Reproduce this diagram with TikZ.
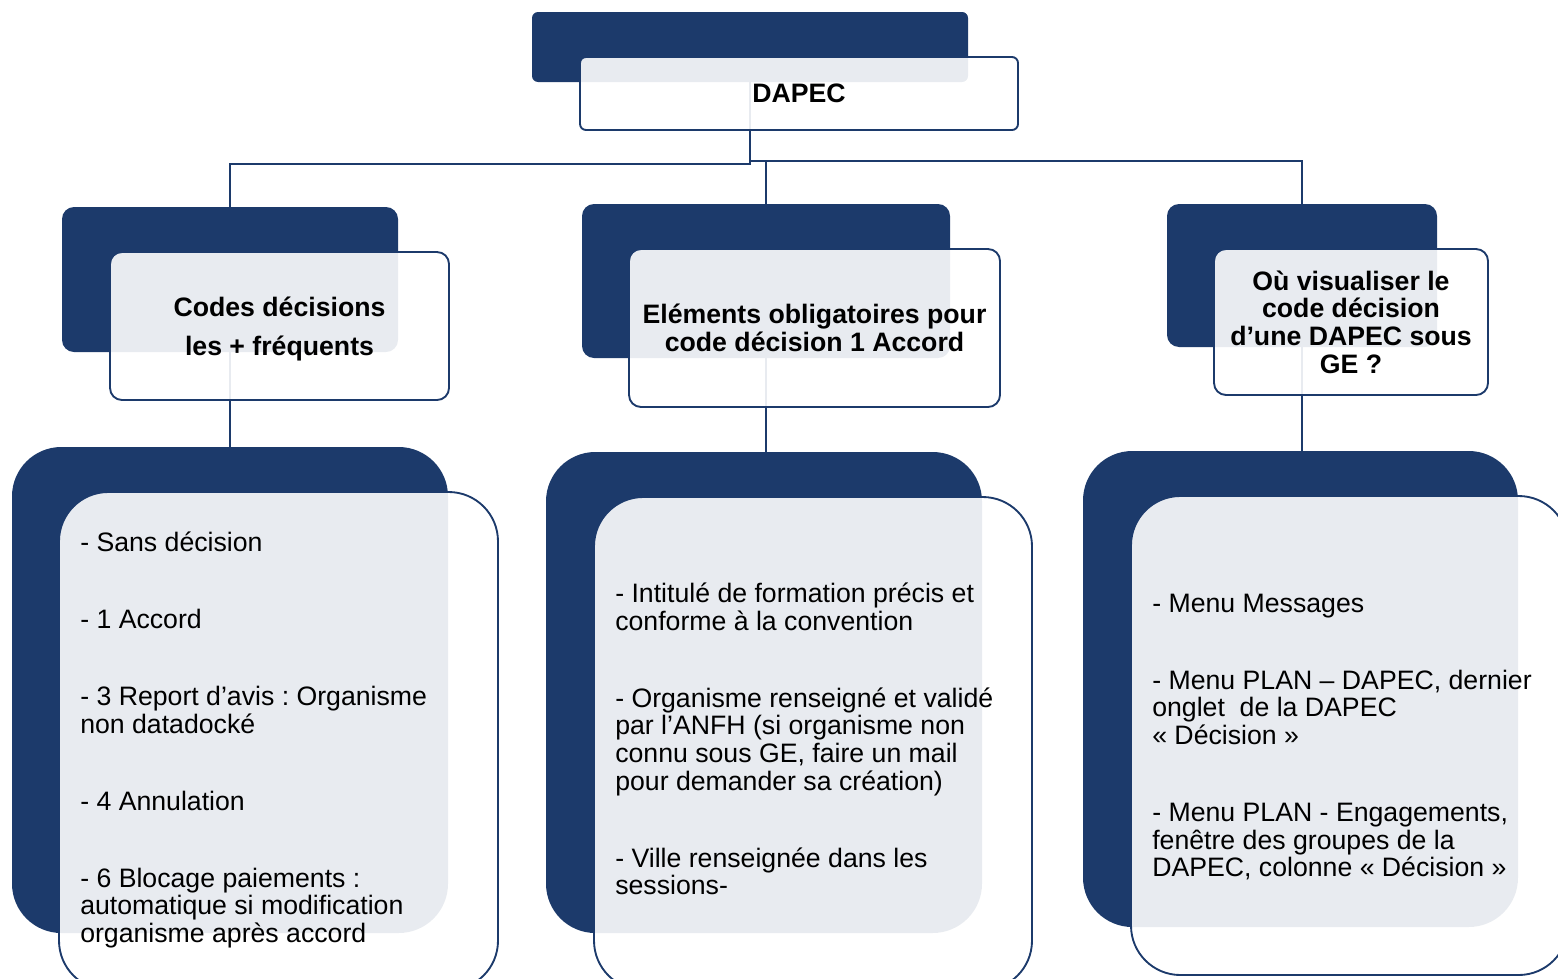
\documentclass[tikz,border=0pt]{standalone}
\usepackage{fontspec}
\setmainfont{Liberation Sans}
\usepackage{xcolor}
\usetikzlibrary{fit,backgrounds}
\definecolor{navy}{RGB}{28,58,107}
\frenchspacing

\tikzset{
  backbox/.style={fill=navy, inner sep=0pt, rounded corners=#1},
  frontbox/.style={draw=navy, line width=1.4pt, fill=white, fill opacity=0.9, inner sep=0pt, rounded corners=#1},
  headtext/.style={font=\bfseries\fontsize{20}{20.7}\selectfont, align=center, inner sep=0pt},
  listtext/.style={font=\fontsize{20}{20.7}\selectfont, align=left, anchor=west, inner sep=0pt},
  link/.style={draw=navy, line width=1.5pt},
}

\begin{document}
\begin{tikzpicture}[x=0.75pt,y=0.75pt,yscale=-1,xscale=1]
\useasboundingbox (0,0) rectangle (1558,978);

%Shape: Rounded Rectangle [top]
\node[backbox=4.5pt, fit={(532,12) (968,82)}] (topback) {};
\node[frontbox=4.5pt, fit={(580,57) (1018,130)}] (topbox) {};

%Shape: Rounded Rectangle [level 2]
\node[backbox=9pt, fit={(62,207) (398,352)}] (codesback) {};
\node[frontbox=9pt, fit={(110,252) (449,400)}] (codesbox) {};
\node[backbox=9pt, fit={(582,204) (950,358)}] (elemback) {};
\node[frontbox=9pt, fit={(629,249) (1000,407)}] (elembox) {};
\node[backbox=9pt, fit={(1167,204) (1437,347)}] (placeback) {};
\node[frontbox=9pt, fit={(1214,249) (1488,395)}] (placebox) {};

%Shape: Rounded Rectangle [level 3]
\node[backbox=37pt, fit={(12,447) (448,933)}] (codeslistback) {};
\node[frontbox=37pt, fit={(59,492) (498,990)}] (codeslistbox) {};
\node[backbox=37pt, fit={(546,452) (982,933)}] (elemlistback) {};
\node[frontbox=37pt, fit={(594,497) (1032,990)}] (elemlistbox) {};
\node[backbox=37pt, fit={(1083,451) (1518,927)}] (placelistback) {};
\node[frontbox=37pt, fit={(1131,496) (1568,975)}] (placelistbox) {};

%Straight Lines [connectors]
\coordinate (busL) at (750,164);
\coordinate (busR) at (750,161);
\begin{pgfonlayer}{background}
\draw[link] (topback.south) -- (busL) -| (codesback.north);
\draw[link] (busR) -| (placeback.north);
\draw[link] (elemback.north |- busR) -- (elemback.north);
\draw[link] (codesback.south) -- (codeslistback.north);
\draw[link] (elemback.south) -- (elemback.south |- elemlistback.north);
\draw[link] (placeback.south) -- (placeback.south |- placelistback.north);
\end{pgfonlayer}

% Text Node
\node[headtext] (toptitle) at (topbox.center) {DAPEC};
% Text Node
\node[headtext] (codestitle) at ([yshift=2.25pt]codesbox.center) {Codes décisions\\[8pt]les + fréquents};
% Text Node
\node[headtext] (elemtitle) at (elembox.center) {Eléments obligatoires pour\\code décision 1 Accord};
% Text Node
\node[headtext] (placetitle) at (placebox.center) {Où visualiser le\\code décision\\d’une DAPEC sous\\GE ?};
% Text Node
\node[listtext] (codeslist) at (80,740) {- Sans décision\\[37pt]- 1 Accord\\[37pt]- 3 Report d’avis : Organisme\\non datadocké\\[37pt]- 4 Annulation\\[37pt]- 6 Blocage paiements :\\automatique si modification\\organisme après accord};
% Text Node
\node[listtext] (elemlist) at (615,739) {- Intitulé de formation précis et\\conforme à la convention\\[37pt]- Organisme renseigné et validé\\par l’ANFH (si organisme non\\connu sous GE, faire un mail\\pour demander sa création)\\[37pt]- Ville renseignée dans les\\sessions-};
% Text Node
\node[listtext] (placelist) at (1152,737) {- Menu Messages\\[37pt]- Menu PLAN – DAPEC, dernier\\onglet\ \ de la DAPEC\\« Décision »\\[37pt]- Menu PLAN - Engagements,\\fenêtre des groupes de la\\DAPEC, colonne « Décision »};
\end{tikzpicture}
\end{document}
